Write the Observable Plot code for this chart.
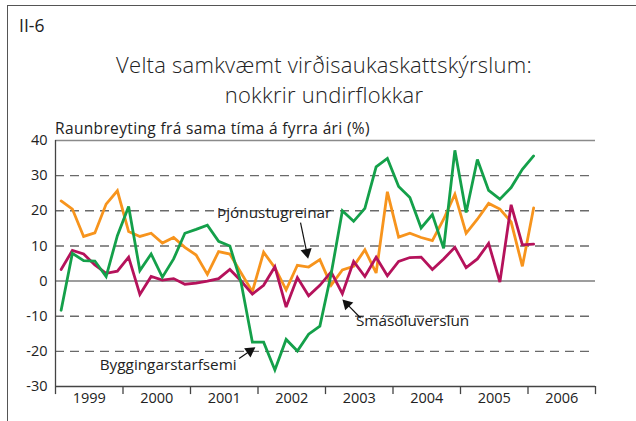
<!DOCTYPE html>
<html><head><meta charset="utf-8">
<script src="https://cdn.jsdelivr.net/npm/d3@7"></script>
<script src="https://cdn.jsdelivr.net/npm/@observablehq/plot@0.6"></script>
<style>
body{margin:0;background:#fff;font-family:"Open Sans",Lato,sans-serif;}
#wrap{position:relative;width:636px;height:421px;overflow:hidden;}
#frame{position:absolute;left:7px;top:5px;width:640px;height:430px;border-left:1.5px solid #555;border-top:1.5px solid #555;}
#chart{position:absolute;left:0;top:0;}
#num{position:absolute;left:19px;top:13px;font-size:17.5px;color:#222;}
.title{position:absolute;left:0;width:648px;text-align:center;font-size:22px;letter-spacing:0.25px;line-height:25px;height:25px;color:#222;font-weight:300;}
#t1{top:51.5px;}
#t2{top:81.5px;}
#sub{position:absolute;left:55px;top:117px;font-size:15.5px;letter-spacing:0.35px;color:#222;}
</style></head><body>
<div id="wrap">
<div id="frame"></div>
<div id="chart"></div>
<div id="num">II-6</div>
<div class="title" id="t1">Velta samkvæmt virðisaukaskattskýrslum:</div>
<div class="title" id="t2">nokkrir undirflokkar</div>
<div id="sub">Raunbreyting frá sama tíma á fyrra ári (%)</div>
</div>
<script>
// bimonthly periods from Jan-Feb 1999 to Jan-Feb 2006
const firstYear = 1999;
const periodsPerYear = 6;
const yearLabels = ["1999","2000","2001","2002","2003","2004","2005","2006"];
const yearBounds = [1999,2000,2001,2002,2003,2004,2005,2006,2007];
const yTicks = [-30,-20,-10,0,10,20,30,40];
const dashedGrid = [-20,-10,10,20,30];

const thjonusta = [22.8,20.5,12.7,13.7,21.9,25.7,14.1,12.7,13.6,10.8,12.4,9.6,7.4,1.9,8.4,7.7,2.3,-3.0,8.2,3.8,-2.5,4.5,4.0,6.1,-1.2,3.2,4.2,8.9,2.3,25.4,12.5,13.6,12.4,11.5,17.6,24.7,13.6,17.6,22.1,20.5,16.8,4.2,20.8];
const bygging = [-8.3,7.9,5.8,5.7,1.3,12.9,21.2,3.0,7.7,1.1,6.3,13.6,14.7,15.9,11.3,10.0,-0.5,-17.4,-17.4,-25.3,-16.6,-19.9,-15.1,-12.8,2.0,20.0,17.0,20.7,32.5,34.9,26.9,23.8,15.1,18.9,9.3,37.2,19.5,34.6,25.8,23.3,26.6,31.8,35.6];
const smasala = [3.3,8.7,7.7,4.6,2.2,2.8,6.8,-3.8,1.3,0.3,0.7,-0.9,-0.6,0,0.7,3.3,0,-3.7,-1.2,4.1,-7.4,1.0,-4.2,-1.2,2.6,-3.6,5.6,1.3,6.8,1.5,5.6,6.7,6.8,3.3,6.3,9.6,3.8,6.3,10.7,-0.3,21.7,10.3,10.5];

const seriesNames = ["Þjónustugreinar","Smásöluverslun","Byggingarstarfsemi"];
const seriesColors = ["#f7941d","#b5125b","#14a04a"];

// annotation labels (data coordinates) and arrows
const labels = [
  {text:"Þjónustugreinar", x:2002.24, y:19.4},
  {text:"Smásöluverslun", x:2004.29, y:-11.3},
  {text:"Byggingarstarfsemi", x:2000.67, y:-23.9}
];
const arrows = [
  {x1:2002.63, y1:16.6, x2:2002.74, y2:6.6},
  {x1:2003.52, y1:-10.5, x2:2003.26, y2:-5.4},
  {x1:2001.72, y1:-22.0, x2:2001.95, y2:-19.0}
];

const tOf = i => firstYear + (i + 0.5) / periodsPerYear;
const series = [thjonusta, smasala, bygging];
const rows = series.map((vals, s) => vals.map((v, i) => ({t: tOf(i), v, s: seriesNames[s]})));

const W = 636, H = 421, mL = 55, mR = 41, mT = 140, mB = 35;
const sx = Plot.scale({x:{domain:[1999,2007], range:[mL, W - mR]}});
const sy = Plot.scale({y:{domain:[-30,40], range:[H - mB, mT]}});
const heads = arrows.map(a => {
  const px1 = sx.apply(a.x1), py1 = sy.apply(a.y1), px2 = sx.apply(a.x2), py2 = sy.apply(a.y2);
  const dx = px2 - px1, dy = py2 - py1, L = Math.hypot(dx, dy);
  const back = 5.6;
  return {x: sx.invert(px2 - dx / L * back), y: sy.invert(py2 - dy / L * back), rot: Math.atan2(dx, -dy) * 180 / Math.PI,
          sx2: sx.invert(px2 - dx / L * 6), sy2: sy.invert(py2 - dy / L * 6), x1: a.x1, y1: a.y1};
});

const font = "'Open Sans', Lato, sans-serif";
const chart = Plot.plot({
  width: W, height: H, marginLeft: mL, marginRight: mR, marginTop: mT, marginBottom: mB,
  style: {background: "transparent", fontFamily: font, color: "#222", overflow: "visible"},
  x: {domain: [1999, 2007], axis: null},
  y: {domain: [-30, 40], axis: null},
  marks: [
    Plot.ruleY(dashedGrid, {stroke: "#6a6a6a", strokeWidth: 1.4, strokeDasharray: "9,6"}),
    Plot.ruleY([40], {stroke: "#8a8a8a", strokeWidth: 1.6}),
    Plot.ruleY([0], {stroke: "#7c7c7c", strokeWidth: 1.4}),
    Plot.ruleY([-30], {stroke: "#444", strokeWidth: 1.3}),
    Plot.ruleX([1999], {stroke: "#444", strokeWidth: 1.3}),
    Plot.ruleX(yearBounds, {y1: -30, y2: -32.3, stroke: "#444", strokeWidth: 1.3}),
    Plot.text(yTicks, {x: 1999, y: d => d, text: d => String(d), textAnchor: "end", dx: -8, fontSize: 14.5, fill: "#222"}),
    Plot.text(yearLabels, {x: d => +d + 0.5, y: -30, text: d => d, dy: 12, fontSize: 14.5, fill: "#222"}),
    ...rows.map((r, k) => Plot.line(r, {x: "t", y: "v", stroke: seriesColors[k], strokeWidth: 2.8, strokeLinejoin: "miter", strokeMiterlimit: 3})),
    Plot.text(labels, {x: "x", y: "y", text: "text", fontSize: 15.3, fill: "#222"}),
    Plot.link(heads, {x1: "x1", y1: "y1", x2: "sx2", y2: "sy2", stroke: "#111", strokeWidth: 1.2}),
    Plot.dot(heads, {x: "x", y: "y", symbol: "triangle", r: 4.2, fill: "#111", stroke: "none", rotate: "rot"})
  ]
});
document.getElementById("chart").appendChild(chart);
</script>
</body></html>
